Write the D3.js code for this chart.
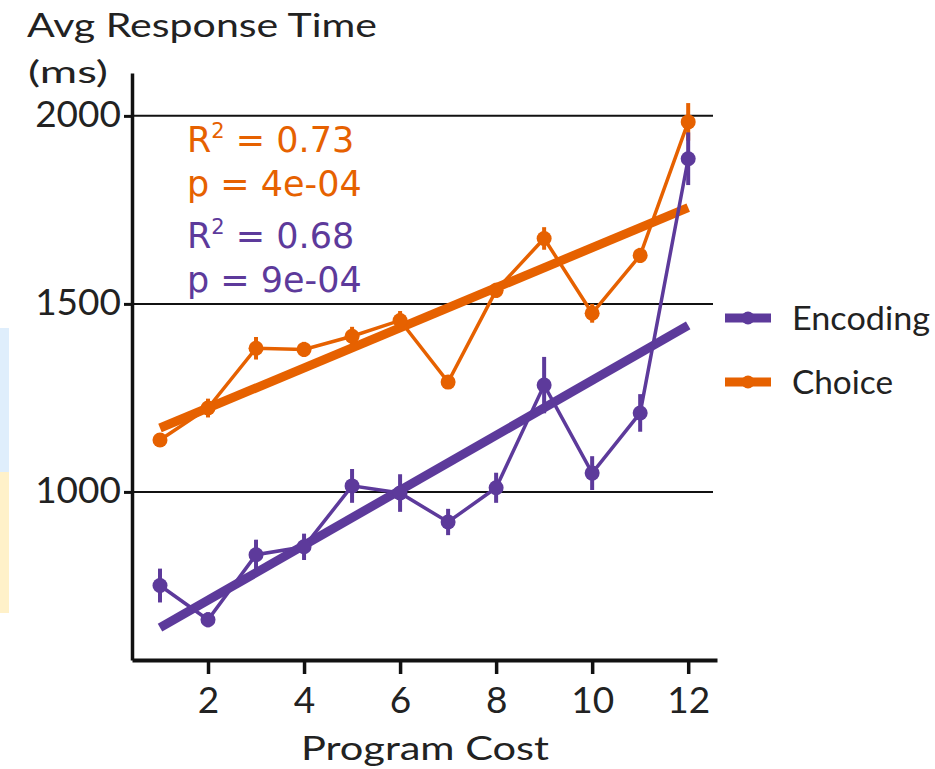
<!DOCTYPE html>
<html>
<head>
<meta charset="utf-8">
<script src="https://cdn.jsdelivr.net/npm/d3@7"></script>
<style>
  body { margin: 0; background: #fff; }
  svg { display: block; }
</style>
</head>
<body>
<svg id="chart" width="935" height="769"></svg>
<script>
// Program cost categories
const costs = [1, 2, 3, 4, 5, 6, 7, 8, 9, 10, 11, 12];
// Average response times (ms) and error bar half-widths
const encodingMean = [751, 660, 833, 854, 1016, 997, 920, 1011, 1284, 1050, 1210, 1886];
const encodingErr  = [45, 20, 40, 35, 45, 50, 35, 40, 75, 45, 50, 70];
const choiceMean   = [1138, 1223, 1382, 1379, 1414, 1456, 1292, 1536, 1674, 1475, 1629, 1984];
const choiceErr    = [15, 25, 30, 20, 25, 25, 15, 20, 30, 25, 20, 50];
// Linear fit end points (at cost 1 and cost 12)
const encodingFit = [639, 1443];
const choiceFit   = [1170, 1756];
// Tick labels
const xTicks = [2, 4, 6, 8, 10, 12];
const yTicks = [1000, 1500, 2000];
// Stats annotations
const statLines = [
  {r: "0.73", p: "4e-04", series: "choice"},
  {r: "0.68", p: "9e-04", series: "encoding"}
];

const colors = {encoding: "#5d3a9b", choice: "#e66100"};
const svg = d3.select("#chart");

// left-edge decoration (slide background)
svg.append("rect").attr("x", 0).attr("y", 328).attr("width", 9).attr("height", 144).attr("fill", "#dfeefc");
svg.append("rect").attr("x", 0).attr("y", 472).attr("width", 9).attr("height", 141).attr("fill", "#fff1c9");

const x = d3.scaleLinear().domain([0.417, 12.6]).range([132, 717]);
const y = d3.scaleLinear().domain([553, 2114]).range([660, 73]);

const axisFont = "Lato, 'Open Sans', sans-serif";

// horizontal grid lines
svg.append("g")
  .selectAll("line")
  .data(yTicks)
  .join("line")
  .attr("x1", x(0.417)).attr("x2", 713)
  .attr("y1", d => y(d)).attr("y2", d => y(d))
  .attr("stroke", "#111").attr("stroke-width", 2);

// y axis
const gY = svg.append("g")
  .attr("transform", `translate(${x(0.417)},0)`)
  .call(d3.axisLeft(y).tickValues(yTicks).tickSize(8).tickSizeOuter(0).tickPadding(3).tickFormat(d3.format("d")));
gY.select(".domain").attr("stroke", "#111").attr("stroke-width", 3.5);
gY.selectAll(".tick line").attr("stroke", "#111").attr("stroke-width", 3);
gY.selectAll(".tick text")
  .attr("font-family", axisFont).attr("font-size", 37).attr("fill", "#222")
  .attr("dy", "0.28em");

// x axis
const gX = svg.append("g")
  .attr("transform", `translate(0,${y(553)})`)
  .call(d3.axisBottom(x).tickValues(xTicks).tickSize(14).tickSizeOuter(0).tickPadding(13));
gX.select(".domain").attr("stroke", "#111").attr("stroke-width", 4);
gX.selectAll(".tick line").attr("stroke", "#111").attr("stroke-width", 3.5);
gX.selectAll(".tick text")
  .attr("font-family", axisFont).attr("font-size", 37).attr("fill", "#222");

// axis titles
svg.append("text").attr("x", 27).attr("y", 37)
  .attr("font-family", axisFont).attr("font-size", 33).attr("fill", "#222")
  .attr("textLength", 350).attr("lengthAdjust", "spacingAndGlyphs")
  .text("Avg Response Time");
svg.append("text").attr("x", 28).attr("y", 83)
  .attr("font-family", axisFont).attr("font-size", 31).attr("fill", "#222")
  .attr("textLength", 80).attr("lengthAdjust", "spacingAndGlyphs")
  .text("(ms)");
svg.append("text").attr("x", 301).attr("y", 760)
  .attr("font-family", axisFont).attr("font-size", 33).attr("fill", "#222")
  .attr("textLength", 248).attr("lengthAdjust", "spacingAndGlyphs")
  .text("Program Cost");

// series drawing
function drawSeries(mean, err, fit, color) {
  const g = svg.append("g");
  const pts = costs.map((c, i) => ({c, m: mean[i], e: err[i]}));
  // fit line
  g.append("line")
    .attr("x1", x(costs[0])).attr("x2", x(costs[costs.length - 1]))
    .attr("y1", y(fit[0])).attr("y2", y(fit[1]))
    .attr("stroke", color).attr("stroke-width", 9);
  // data line
  g.append("path")
    .datum(pts)
    .attr("d", d3.line().x(d => x(d.c)).y(d => y(d.m)))
    .attr("fill", "none").attr("stroke", color).attr("stroke-width", 3.5);
  // error bars
  g.selectAll(".err")
    .data(pts)
    .join("line")
    .attr("x1", d => x(d.c)).attr("x2", d => x(d.c))
    .attr("y1", d => y(d.m - d.e)).attr("y2", d => y(d.m + d.e))
    .attr("stroke", color).attr("stroke-width", 4);
  // markers
  g.selectAll("circle")
    .data(pts)
    .join("circle")
    .attr("cx", d => x(d.c)).attr("cy", d => y(d.m)).attr("r", 7.5)
    .attr("fill", color);
}
drawSeries(choiceMean, choiceErr, choiceFit, colors.choice);
drawSeries(encodingMean, encodingErr, encodingFit, colors.encoding);

// stats text
const statFont = "'DejaVu Sans', Verdana, sans-serif";
statLines.forEach((s, i) => {
  const base = 152 + i * 96;
  const t1 = svg.append("text").attr("x", 187).attr("y", base)
    .attr("font-family", statFont).attr("font-size", 35).attr("fill", colors[s.series]);
  t1.append("tspan").text("R");
  t1.append("tspan").attr("font-size", 21).attr("dy", -14).text("2");
  t1.append("tspan").attr("dy", 14).text(` = ${s.r}`);
  svg.append("text").attr("x", 187).attr("y", base + 44)
    .attr("font-family", statFont).attr("font-size", 35).attr("fill", colors[s.series])
    .text(`p = ${s.p}`);
});

// legend
const legendItems = [
  {name: "Encoding", key: "encoding", w: 138},
  {name: "Choice", key: "choice", w: 101}
];
const lg = svg.append("g");
legendItems.forEach((d, i) => {
  const ly = 318 + i * 64;
  lg.append("line").attr("x1", 725).attr("x2", 771).attr("y1", ly).attr("y2", ly)
    .attr("stroke", colors[d.key]).attr("stroke-width", 9);
  lg.append("circle").attr("cx", 748).attr("cy", ly).attr("r", 6.5).attr("fill", colors[d.key]);
  lg.append("text").attr("x", 792).attr("y", ly + 12)
    .attr("font-family", axisFont).attr("font-size", 32).attr("fill", "#222")
    .attr("textLength", d.w).attr("lengthAdjust", "spacingAndGlyphs")
    .text(d.name);
});
</script>
</body>
</html>
